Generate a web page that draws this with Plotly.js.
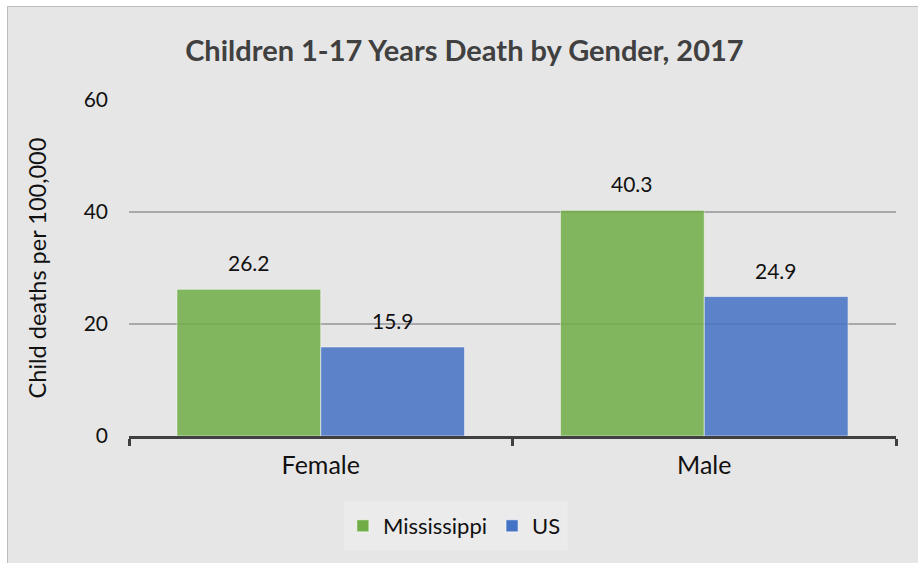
<!DOCTYPE html>
<html>
<head>
<meta charset="utf-8">
<script src="https://cdn.plot.ly/plotly-3.0.1.min.js"></script>
<style>
  html, body { margin: 0; padding: 0; background: #ffffff; width: 918px; height: 563px; overflow: hidden; }
  #chart { position: absolute; left: 7px; top: 6px; width: 911px; height: 557px;
           border-left: 1.5px solid #BDBDBD; border-top: 1.5px solid #BDBDBD; box-sizing: border-box; }
</style>
</head>
<body>
<div id="chart"></div>
<script>
const categories = ['Female', 'Male'];
const seriesNames = ['Mississippi', 'US'];
const mississippi = [26.2, 40.3];
const us = [15.9, 24.9];
const yTicksMain = [0, 20, 40];
const yTicksTop = [60];
const chartTitle = 'Children 1-17 Years Death by Gender, 2017';
const yTitle = 'Child deaths per 100,000';

const FONT = 'Lato, "Open Sans", sans-serif';
const bargap = 0.25;
const allSeries = [mississippi, us];
const colors = ['#70AD47', '#4472C4'];

const traces = allSeries.map((vals, i) => ({
  type: 'bar',
  name: seriesNames[i],
  x: categories,
  y: vals,
  marker: { color: colors[i], opacity: 0.85, line: { color: 'rgba(255,255,255,0.55)', width: 1 } },
  hoverinfo: 'skip'
}));
// empty helper trace so the overlaid axis (top gridline) is drawn
traces.push({
  type: 'scatter', mode: 'markers', x: categories, y: categories.map(() => null),
  yaxis: 'y2', showlegend: false, hoverinfo: 'skip', marker: { opacity: 0 }
});

const annotations = [];
const half = (1 - bargap) / 4;
allSeries.forEach((vals, i) => {
  vals.forEach((v, j) => {
    annotations.push({
      x: j + (i === 0 ? -half : half),
      y: v,
      xref: 'x', yref: 'y',
      text: v.toFixed(1),
      showarrow: false,
      yanchor: 'bottom',
      yshift: 12,
      font: { family: FONT, size: 21, color: '#111111' }
    });
  });
});

const tickFont = { family: FONT, size: 21, color: '#111111' };

const layout = {
  width: 911, height: 557,
  paper_bgcolor: '#E6E6E6',
  plot_bgcolor: '#E6E6E6',
  margin: { l: 121, r: 23, t: 93, b: 128 },
  title: {
    text: '<b>' + chartTitle + '</b>',
    font: { family: FONT, size: 29, color: '#404040' },
    x: 0.501, xanchor: 'center',
    y: 1 - 44 / 557, yanchor: 'middle', yref: 'container'
  },
  barmode: 'group',
  bargap: bargap,
  bargroupgap: 0,
  showlegend: true,
  legend: {
    orientation: 'h',
    xref: 'container', yref: 'container',
    x: 0.49, xanchor: 'center',
    y: 38 / 557, yanchor: 'middle',
    bgcolor: 'rgba(0,0,0,0)',
    font: { family: FONT, size: 22, color: '#111111' },
    itemwidth: 30,
    traceorder: 'normal'
  },
  shapes: [{
    type: 'rect', xref: 'paper', yref: 'paper', layer: 'below',
    x0: 0.2807, x1: 0.5718, y0: -0.339, y1: -0.1925,
    fillcolor: '#EBEBEB', line: { width: 0 }
  }],
  xaxis: {
    type: 'category',
    categoryorder: 'array',
    categoryarray: categories,
    showline: true, linecolor: '#404040', linewidth: 3,
    ticks: 'outside', tickson: 'boundaries', ticklen: 7, tickwidth: 3, tickcolor: '#404040',
    tickfont: { family: FONT, size: 25, color: '#111111' },
    ticklabelstandoff: 5,
    showgrid: false, zeroline: false,
    fixedrange: true
  },
  yaxis: {
    range: [0, 60],
    tickvals: yTicksMain,
    ticktext: yTicksMain.map(String),
    tickfont: tickFont,
    ticks: '', ticklabelstandoff: 20,
    showline: false, zeroline: false,
    showgrid: true, gridcolor: '#A9A9A9', gridwidth: 1.5,
    title: { text: yTitle, font: { family: FONT, size: 23.5, color: '#111111' }, standoff: 30 },
    fixedrange: true
  },
  yaxis2: {
    overlaying: 'y',
    side: 'left',
    range: [0, 60],
    tickvals: yTicksTop,
    ticktext: yTicksTop.map(String),
    tickfont: tickFont,
    ticks: '', ticklabelstandoff: 20,
    showline: false, zeroline: false,
    showgrid: true, gridcolor: '#D6D6D6', gridwidth: 1.5,
    fixedrange: true
  },
  annotations: annotations
};

Plotly.newPlot('chart', traces, layout, { displayModeBar: false, staticPlot: true });
</script>
</body>
</html>
